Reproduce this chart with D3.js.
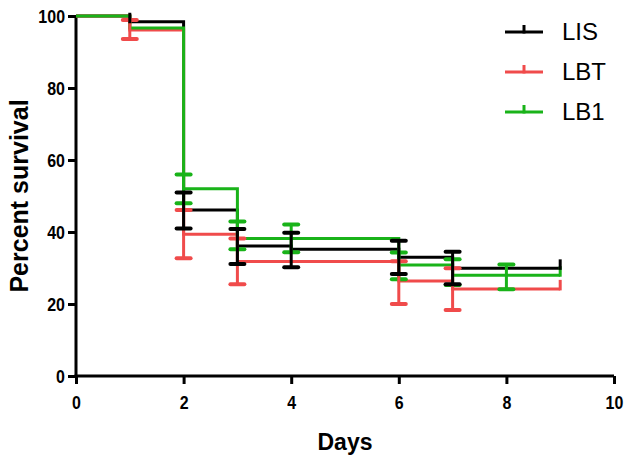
<!DOCTYPE html>
<html>
<head>
<meta charset="utf-8">
<script src="https://cdn.jsdelivr.net/npm/d3@7"></script>
<style>
  body { margin: 0; background: #fff; }
  text { font-family: Arial, "Liberation Sans", sans-serif; }
</style>
</head>
<body>
<svg width="633" height="463"></svg>
<script>
// The svg
var svg = d3.select("svg"),
    width = +svg.attr("width"),
    height = +svg.attr("height");

// Data
var seriesNames = ["LIS", "LBT", "LB1"];
var seriesColors = ["#000000", "#f04b4b", "#19b319"];

var lisDays = [0, 1, 2, 3, 4, 6, 7, 9];
var lisSurv = [100, 98.4, 46.1, 36.1, 35.2, 33, 29.9, 29.9];
var lisErrDays = [2, 3, 4, 6, 7];
var lisErrLow = [41, 31.1, 30.2, 28.3, 25.5];
var lisErrHigh = [51, 40.8, 39.8, 37.6, 34.5];
var lisCensor = [1, 9];

var lbtDays = [0, 1, 2, 3, 6, 7, 9];
var lbtSurv = [100, 96.1, 39.4, 31.8, 26.4, 24.2, 24.2];
var lbtErrDays = [1, 2, 3, 6, 7];
var lbtErrLow = [93.6, 32.7, 25.5, 20, 18.3];
var lbtErrHigh = [98.9, 46.1, 38.2, 31.9, 29.9];
var lbtCensor = [9];

var lb1Days = [0, 1, 2, 3, 4, 6, 7, 8, 9];
var lb1Surv = [100, 96.7, 52, 38.2, 38.2, 30.8, 28, 28, 28];
var lb1ErrDays = [2, 3, 4, 6, 7, 8];
var lb1ErrLow = [48, 35.2, 34.4, 26.9, 25.3, 24.1];
var lb1ErrHigh = [56, 42.9, 42.1, 34.3, 32.4, 31];
var lb1Censor = [9];

var xTicks = [0, 2, 4, 6, 8, 10];
var yTicks = [0, 20, 40, 60, 80, 100];

var series = [
    { days: lisDays, surv: lisSurv, errDays: lisErrDays, lo: lisErrLow, hi: lisErrHigh, censor: lisCensor },
    { days: lbtDays, surv: lbtSurv, errDays: lbtErrDays, lo: lbtErrLow, hi: lbtErrHigh, censor: lbtCensor },
    { days: lb1Days, surv: lb1Surv, errDays: lb1ErrDays, lo: lb1ErrLow, hi: lb1ErrHigh, censor: lb1Censor }
];

// Scales
var x = d3.scaleLinear().domain([0, 10]).range([76, 614]);
var y = d3.scaleLinear().domain([0, 100]).range([376, 16]);

// value at a given day for a step series
function survAt(s, d) {
    var v = s.surv[0];
    s.days.forEach((t, i) => { if (t <= d) v = s.surv[i]; });
    return v;
}

// Axes
var yAxis = svg.append("g")
    .attr("transform", "translate(" + x(0) + ",0)")
    .call(d3.axisLeft(y).tickValues(yTicks).tickSize(8).tickSizeOuter(0).tickPadding(3));
var xAxis = svg.append("g")
    .attr("transform", "translate(0," + y(0) + ")")
    .call(d3.axisBottom(x).tickValues(xTicks).tickSize(8).tickSizeOuter(0).tickPadding(12));

[xAxis, yAxis].forEach(a => {
    a.select(".domain").attr("stroke-width", 3).attr("stroke", "#000");
    a.selectAll(".tick line").attr("stroke-width", 3).attr("stroke", "#000");
    a.selectAll(".tick text")
        .attr("font-size", 19)
        .attr("font-weight", "bold")
        .attr("fill", "#000")
        .each(function () {
            // condensed look of the original tick digits
            var w = this.getComputedTextLength();
            d3.select(this).attr("textLength", w * 0.84).attr("lengthAdjust", "spacingAndGlyphs");
        });
});
xAxis.select(".domain").attr("d", "M" + (x(0) - 1.5) + ",0H" + x(10));
yAxis.select(".domain").attr("d", "M0," + (y(0) + 1.5) + "V" + y(100));

// Step lines
var line = d3.line()
    .x(d => x(d[0]))
    .y(d => y(d[1]))
    .curve(d3.curveStepAfter);

series.forEach((s, i) => {
    var pts = s.days.map((d, j) => [d, s.surv[j]]);
    svg.append("path")
        .datum(pts)
        .attr("fill", "none")
        .attr("stroke", seriesColors[i])
        .attr("stroke-width", 3)
        .attr("d", line);
});

// Error bars and censor ticks
[2, 1, 0].forEach(i => {
    var s = series[i];
    var g = svg.append("g").attr("stroke", seriesColors[i]);
    s.errDays.forEach((d, j) => {
        g.append("line")
            .attr("x1", x(d)).attr("x2", x(d))
            .attr("y1", y(s.lo[j])).attr("y2", y(s.hi[j]))
            .attr("stroke-width", 3);
        [s.lo[j], s.hi[j]].forEach(v => {
            g.append("line")
                .attr("x1", x(d) - 7).attr("x2", x(d) + 7)
                .attr("y1", y(v)).attr("y2", y(v))
                .attr("stroke-width", 4)
                .attr("stroke-linecap", "round");
        });
    });
    s.censor.forEach(d => {
        var v = survAt(s, d);
        g.append("line")
            .attr("x1", x(d)).attr("x2", x(d))
            .attr("y1", y(v) + 1.5).attr("y2", y(v) - 9)
            .attr("stroke-width", 3);
    });
});

// Axis titles
svg.append("text")
    .attr("x", (x(0) + x(10)) / 2)
    .attr("y", 450)
    .attr("text-anchor", "middle")
    .attr("font-size", 23)
    .attr("font-weight", "bold")
    .text("Days");

svg.append("text")
    .attr("transform", "translate(28,196) rotate(-90)")
    .attr("text-anchor", "middle")
    .attr("font-size", 25)
    .attr("font-weight", "bold")
    .text("Percent survival");

// Legend
var legend = svg.append("g").attr("transform", "translate(505,32)");
seriesNames.forEach((name, i) => {
    var row = legend.append("g").attr("transform", "translate(0," + i * 40 + ")");
    row.append("line")
        .attr("x1", 0).attr("x2", 38).attr("y1", 0).attr("y2", 0)
        .attr("stroke", seriesColors[i]).attr("stroke-width", 3);
    row.append("line")
        .attr("x1", 19).attr("x2", 19).attr("y1", 1.5).attr("y2", -7)
        .attr("stroke", seriesColors[i]).attr("stroke-width", 3);
    row.append("text")
        .attr("x", 57).attr("y", 8)
        .attr("font-size", 24)
        .attr("fill", "#000")
        .text(name);
});
</script>
</body>
</html>
